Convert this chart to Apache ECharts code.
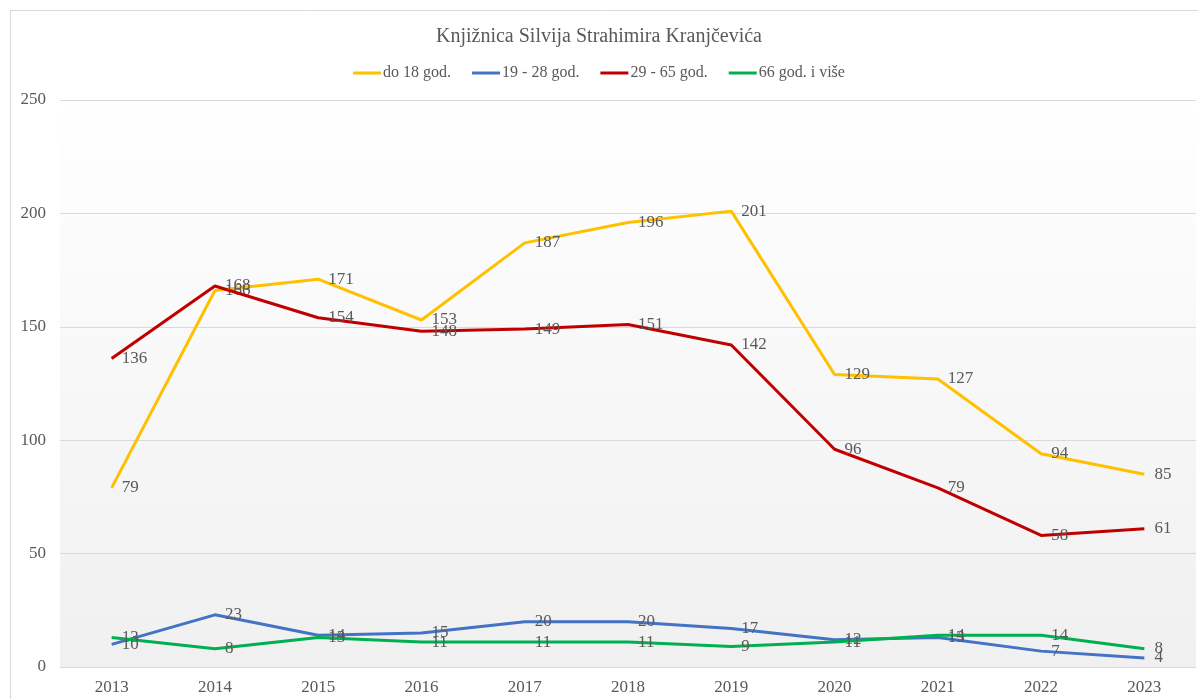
<!DOCTYPE html>
<html>
<head>
<meta charset="utf-8">
<script src="https://cdn.jsdelivr.net/npm/echarts@6/dist/echarts.min.js"></script>
<style>
  html, body { margin: 0; padding: 0; background: #fff; }
  #chart { width: 1198px; height: 699px; }
</style>
</head>
<body>
<div id="chart"></div>
<script>
// === ДАННЫЕ ===
const years = ['2013', '2014', '2015', '2016', '2017', '2018', '2019', '2020', '2021', '2022', '2023'];
const seriesNames = ['do 18 god.', '19 - 28 god.', '29 - 65 god.', '66 god. i više'];
const do18 = [79, 166, 171, 153, 187, 196, 201, 129, 127, 94, 85];
const od19do28 = [10, 23, 14, 15, 20, 20, 17, 12, 13, 7, 4];
const od29do65 = [136, 168, 154, 148, 149, 151, 142, 96, 79, 58, 61];
const od66 = [13, 8, 13, 11, 11, 11, 9, 11, 14, 14, 8];
const yTicks = [0, 50, 100, 150, 200, 250];

const colors = ['#FFC000', '#4472C4', '#C00000', '#00B050'];
const textColor = '#595959';
const fontFamily = '"Liberation Serif", "Times New Roman", serif';

const chart = echarts.init(document.getElementById('chart'));

function makeSeries(name, data, idx) {
    return {
        name: name,
        type: 'line',
        data: data,
        symbol: 'circle',
        symbolSize: 0.1,
        showSymbol: true,
        lineStyle: { width: 3, color: colors[idx] },
        itemStyle: { color: colors[idx] },
        z: 2 + idx,
        label: {
            show: true,
            position: 'right',
            distance: 10,
            offset: [0, 1],
            color: textColor,
            fontSize: 17,
            fontFamily: fontFamily
        },
        labelLayout: { hideOverlap: false }
    };
}

const option = {
    animation: false,
    color: colors,
    title: {
        text: 'Knjižnica Silvija Strahimira Kranjčevića',
        left: 'center',
        top: 22,
        textStyle: { color: textColor, fontSize: 20, fontWeight: 'normal', fontFamily: fontFamily }
    },
    legend: {
        data: seriesNames,
        top: 60,
        left: 'center',
        icon: 'rect',
        itemWidth: 28,
        itemHeight: 3,
        itemGap: 21,
        textStyle: { color: textColor, fontSize: 16, fontFamily: fontFamily, padding: [0, 0, 0, -3] }
    },
    graphic: [{
        type: 'rect',
        shape: { x: 10.5, y: 10.5, width: 1200, height: 700 },
        style: { fill: 'none', stroke: '#d9d9d9', lineWidth: 1 },
        z: -10
    }],
    grid: {
        left: 60,
        right: 2,
        top: 100,
        bottom: 32,
        show: true,
        borderWidth: 0,
        backgroundColor: new echarts.graphic.LinearGradient(0, 0, 0, 1, [
            { offset: 0, color: '#ffffff' },
            { offset: 1, color: '#f0f0f0' }
        ])
    },
    xAxis: {
        type: 'category',
        data: years,
        boundaryGap: true,
        axisLine: { lineStyle: { color: '#d9d9d9', width: 1 } },
        axisTick: { show: false },
        axisLabel: { color: textColor, fontSize: 17, fontFamily: fontFamily, margin: 12 }
    },
    yAxis: {
        type: 'value',
        min: yTicks[0],
        max: yTicks[yTicks.length - 1],
        interval: 50,
        axisLine: { show: false },
        axisTick: { show: false },
        splitLine: { lineStyle: { color: '#d9d9d9', width: 1 } },
        axisLabel: { color: textColor, fontSize: 17, fontFamily: fontFamily, margin: 14 }
    },
    series: [
        makeSeries(seriesNames[0], do18, 0),
        makeSeries(seriesNames[1], od19do28, 1),
        makeSeries(seriesNames[2], od29do65, 2),
        makeSeries(seriesNames[3], od66, 3)
    ]
};

chart.setOption(option);
</script>
</body>
</html>
